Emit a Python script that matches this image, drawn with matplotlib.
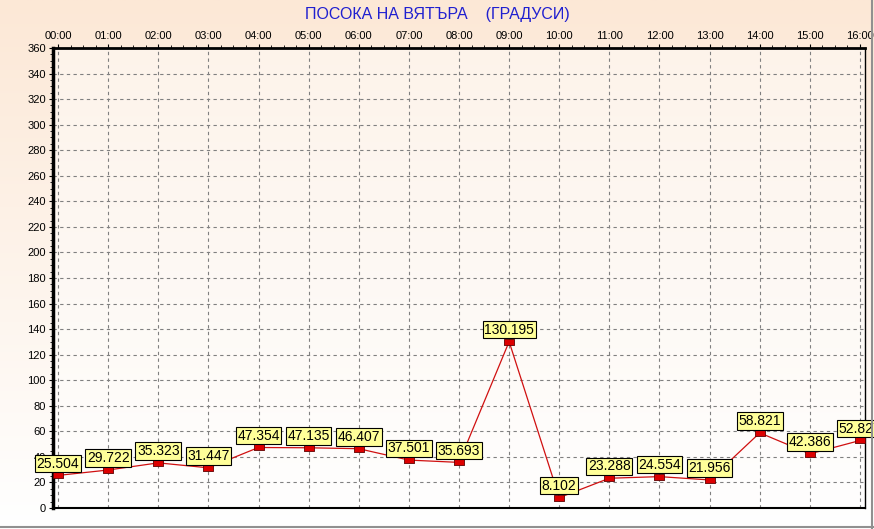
import numpy as np
import matplotlib
matplotlib.use('Agg')
from matplotlib import pyplot as plt
from matplotlib.lines import Line2D
from matplotlib.ticker import MultipleLocator

plt.rcParams['font.family'] = ['Liberation Sans', 'DejaVu Sans']

hours = ['00:00', '01:00', '02:00', '03:00', '04:00', '05:00', '06:00', '07:00', '08:00',
         '09:00', '10:00', '11:00', '12:00', '13:00', '14:00', '15:00', '16:00']
wind_dir = [25.504, 29.722, 35.323, 31.447, 47.354, 47.135, 46.407, 37.501, 35.693,
            130.195, 8.102, 23.288, 24.554, 21.956, 58.821, 42.386, 52.827]

fig = plt.figure(figsize=(8.74, 5.29), dpi=100)

# фон с преливане
bg = fig.add_axes([0, 0, 1, 1], zorder=-10)
grad = np.linspace(0, 1, 256).reshape(-1, 1)
top_c = np.array([252, 232, 214]) / 255
bot_c = np.array([255, 255, 255]) / 255
img = top_c * (1 - grad[..., None]) + bot_c * grad[..., None]
img = np.repeat(img, 2, axis=1)
bg.imshow(img, aspect='auto', extent=[0, 1, 0, 1])
bg.axis('off')

ax = fig.add_axes([53/874, 21/529, 812/874, 460/529])
ax.set_facecolor((1, 1, 1, 0.45))

x = np.arange(len(hours))
marker = [(-1, -0.6), (1, -0.6), (1, 0.6), (-1, 0.6), (-1, -0.6)]
ax.plot(x, wind_dir, color='#d01010', lw=0.9, marker=marker, markersize=7.5,
        markerfacecolor='#dd0000', markeredgecolor='#600000', markeredgewidth=0.6, zorder=3)

for xi, v in zip(x, wind_dir):
    ax.annotate(f'{v:.3f}', (xi, v), xytext=(0, 3.5), textcoords='offset points',
                ha='center', va='bottom', fontsize=10, zorder=4, annotation_clip=False,
                bbox=dict(boxstyle='square,pad=0.12', fc='#ffff99', ec='black', lw=0.8))

ax.set_xlim(-0.1, 16.1)
ax.set_ylim(0, 360)
ax.set_xticks(x)
ax.set_xticklabels(hours)
ax.xaxis.tick_top()
ax.set_yticks(np.arange(0, 361, 20))
ax.yaxis.set_minor_locator(MultipleLocator(5))
ax.xaxis.set_minor_locator(MultipleLocator(0.25))
ax.tick_params(axis='both', labelsize=8, length=3, width=0.8, pad=2)
ax.tick_params(axis='x', which='minor', length=2, top=True, bottom=False)
ax.tick_params(axis='y', which='minor', length=2)
ax.grid(True, which='major', linestyle=(0, (3, 3)), color='#808080', lw=0.8)

ax.spines['left'].set_linewidth(2.5)
ax.spines['top'].set_linewidth(2)
ax.spines['right'].set_linewidth(1)
ax.spines['bottom'].set_linewidth(1.5)
ax.spines['bottom'].set_linestyle((0, (3, 1)))

fig.text(0.5, 1 - 15/529, 'ПОСОКА НА ВЯТЪРА    (ГРАДУСИ)', ha='center', va='center',
         color='#2020d0', fontsize=11.5)

# сива рамка
fig.add_artist(Line2D([0, 1], [2.5/529, 2.5/529], color='#909090', lw=1.5, transform=fig.transFigure))
fig.add_artist(Line2D([1 - 2.5/874, 1 - 2.5/874], [0, 1], color='#909090', lw=1.5, transform=fig.transFigure))

plt.savefig('out.png', dpi=100)
